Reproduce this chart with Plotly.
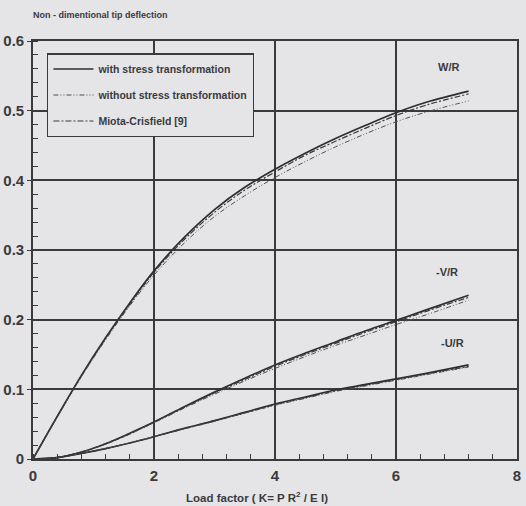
import plotly.graph_objects as go

k = [0, 0.4, 0.8, 1.2, 1.6, 2.0, 2.5, 3.0, 3.5, 4.0, 4.5, 5.0, 5.5, 6.0, 6.5, 7.2]

w_with = [0, 0.061, 0.12, 0.174, 0.224, 0.27, 0.318, 0.358, 0.39, 0.416, 0.439, 0.46, 0.479, 0.497, 0.512, 0.528]
w_without = [0, 0.06, 0.118, 0.171, 0.22, 0.264, 0.31, 0.348, 0.378, 0.404, 0.427, 0.448, 0.467, 0.484, 0.498, 0.514]
w_mc = [0, 0.061, 0.119, 0.173, 0.222, 0.268, 0.315, 0.354, 0.386, 0.412, 0.436, 0.456, 0.475, 0.493, 0.508, 0.524]

v_with = [0, 0.002, 0.01, 0.022, 0.037, 0.053, 0.075, 0.096, 0.116, 0.135, 0.152, 0.168, 0.184, 0.199, 0.214, 0.235]
v_without = [0, 0.002, 0.01, 0.021, 0.036, 0.052, 0.073, 0.093, 0.112, 0.13, 0.147, 0.163, 0.178, 0.193, 0.207, 0.228]
v_mc = [0, 0.002, 0.01, 0.022, 0.036, 0.053, 0.074, 0.095, 0.114, 0.133, 0.15, 0.166, 0.182, 0.197, 0.212, 0.232]

u_with = [0, 0.002, 0.008, 0.015, 0.023, 0.032, 0.044, 0.055, 0.067, 0.079, 0.089, 0.099, 0.107, 0.115, 0.123, 0.135]
u_without = [0, 0.002, 0.008, 0.015, 0.023, 0.032, 0.043, 0.054, 0.066, 0.077, 0.087, 0.097, 0.105, 0.113, 0.121, 0.132]
u_mc = [0, 0.002, 0.008, 0.015, 0.023, 0.032, 0.044, 0.055, 0.066, 0.078, 0.088, 0.098, 0.106, 0.114, 0.122, 0.133]

series_names = ["with stress transformation", "without stress transformation", "Miota-Crisfield [9]"]
labels = ["W/R", "-V/R", "-U/R"]
label_pos_x = [6.86, 6.84, 6.94]
label_pos_y = [0.562, 0.269, 0.166]
x_ticks = [0, 2, 4, 6, 8]
x_tick_text = ["0", "2", "4", "6", "8"]
y_ticks = [0, 0.1, 0.2, 0.3, 0.4, 0.5, 0.6]
y_tick_text = ["0", "0.1", "0.2", "0.3", "0.4", "0.5", "0.6"]

ink = "#3a3a3c"
bg = "#e5e5e7"
font = "Liberation Sans"

styles = [
    dict(color="#2e2e30", width=1.7, dash="solid"),
    dict(color="#505052", width=1.0, dash="5px,2px,1px,2px,1px,2px"),
    dict(color="#3a3a3c", width=1.2, dash="6px,2px,2px,2px"),
]

fig = go.Figure()
groups = [(w_with, w_without, w_mc), (v_with, v_without, v_mc), (u_with, u_without, u_mc)]
for gi, grp in enumerate(groups):
    for si, ys in enumerate(grp):
        fig.add_trace(go.Scatter(
            x=k, y=ys, mode="lines", line=dict(shape="spline", **styles[si]),
            name="<b>" + series_names[si] + "</b>", showlegend=(gi == 0), legendgroup=str(si),
        ))

for i, lab in enumerate(labels):
    fig.add_annotation(x=label_pos_x[i], y=label_pos_y[i], text="<b>" + lab + "</b>",
                       showarrow=False, font=dict(family=font, size=11, color=ink))

fig.add_annotation(xref="paper", yref="paper", x=-0.005, y=1.063, xanchor="left", yanchor="middle",
                   text="<b>Non - dimentional tip deflection</b>", showarrow=False,
                   font=dict(family=font, size=9, color=ink))
fig.add_annotation(xref="paper", yref="paper", x=0.463, y=-0.07, xanchor="center", yanchor="top",
                   text="<b>Load factor ( K= P R<sup>2</sup> / E I)</b>", showarrow=False,
                   font=dict(family=font, size=11.5, color=ink))

axis_common = dict(showline=True, mirror=True, linecolor=ink, linewidth=1.6,
                   showgrid=True, gridcolor=ink, gridwidth=1.5, zeroline=False, automargin=False,
                   tickfont=dict(family=font, size=15, color=ink))

fig.update_xaxes(range=[0, 8], tickvals=x_ticks, ticktext=["<b>%s</b>" % t for t in x_tick_text],
                 ticks="", ticklabelstandoff=2,
                 minor=dict(dtick=0.4, tick0=0, ticks="inside", ticklen=5, tickcolor=ink, tickwidth=1.2, showgrid=False),
                 **axis_common)
fig.update_yaxes(range=[0, 0.6], tickvals=y_ticks, ticktext=["<b>%s</b>" % t for t in y_tick_text],
                 ticks="outside", ticklen=4, tickcolor=ink, tickwidth=1.4,
                 minor=dict(dtick=0.02, tick0=0, ticks="inside", ticklen=5, tickcolor=ink, tickwidth=1.2, showgrid=False),
                 **axis_common)

fig.update_layout(
    width=526, height=506,
    margin=dict(l=33, r=9, t=41, b=47),
    paper_bgcolor=bg, plot_bgcolor=bg,
    showlegend=True,
    legend=dict(x=0.029, y=0.971, xanchor="left", yanchor="top",
                bgcolor=bg, bordercolor=ink, borderwidth=1.4,
                font=dict(family=font, size=10.5, color=ink), tracegroupgap=7,
                itemwidth=40),
)

fig.write_html("out.html", config={"displayModeBar": False},
               post_script="document.body.style.margin='0';document.body.style.overflow='hidden';")
